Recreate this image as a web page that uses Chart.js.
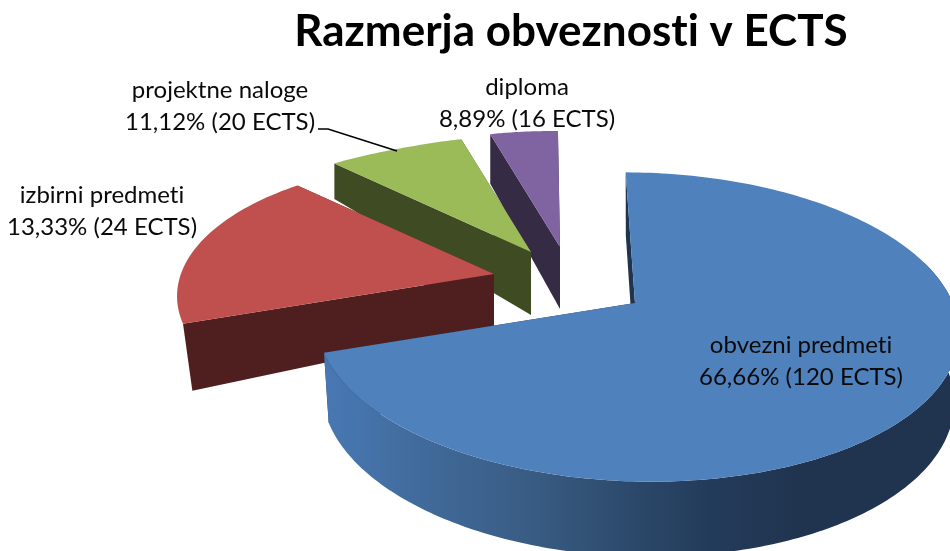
<!DOCTYPE html>
<html lang="en">
  <head>
    <meta charset="utf-8" />
    <title>Razmerja obveznosti v ECTS</title>
    <style>
      * {
        margin: 0;
        padding: 0;
      }
      body {
        background: white;
      }
      canvas {
        display: block;
      }
    </style>
  </head>
  <body>
    <canvas id="myChart" width="950" height="551"></canvas>
    <script src="https://cdn.jsdelivr.net/npm/chart.js/dist/chart.umd.min.js"></script>
    <script>
      // data
      const categories = ["obvezni predmeti", "izbirni predmeti", "projektne naloge", "diploma"];
      const ects = [120, 24, 20, 16];
      const percents = ["66,66", "13,33", "11,12", "8,89"];
      const titleText = "Razmerja obveznosti v ECTS";

      // styles, same order as the data
      const topColors = ["#4f81bd", "#c0504d", "#9bbb59", "#8064a2"];
      const wallColors = ["#20344f", "#4f1f1f", "#3f4b22", "#352b45"];
      const apexes = [[635, 303], [494, 274], [531, 252], [560, 247]];
      const depths = [68, 53, 63, 62];
      const depthGains = [0.04, 0.28, 0.31, 0.11];
      const wallInsets = [0.015, 0.03, 0, 0];
      const labelCenters = [[801, 345], [102, 195], [220, 90], [527, 87]];
      const lineHeight = 32;

      // pie angle (deg from top, clockwise) -> angle on the tilted ellipse
      const warpStops = [[0, -2.2], [240, 258], [288, 318.5], [328, 345.5], [360, 359]];
      const ellipseA = 321;
      const ellipseB = 154.5;

      function warp(a) {
        for (let i = 1; i < warpStops.length; i++) {
          const [a0, t0] = warpStops[i - 1];
          const [a1, t1] = warpStops[i];
          if (a <= a1) return t0 + ((a - a0) / (a1 - a0)) * (t1 - t0);
        }
        return warpStops[warpStops.length - 1][1];
      }

      // the smaller slices at the back are drawn a bit smaller
      function rimScale(a) {
        if (a <= 240) return 1;
        const s = Math.min(1, (a - 240) / 80);
        return 1 - 0.095 * s * s * (3 - 2 * s);
      }

      // point on the rim, relative to the slice apex
      function rimPoint(a) {
        const t = (warp(a) * Math.PI) / 180;
        const r = rimScale(a);
        const dx = r * ellipseA * Math.sin(t);
        return [3 + dx, 24 + 0.02 * dx - r * ellipseB * Math.cos(t)];
      }

      function fillPath(ctx, pts, ax, ay, color) {
        ctx.beginPath();
        pts.forEach((p, j) => {
          if (j === 0) ctx.moveTo(ax + p[0], ay + p[1]);
          else ctx.lineTo(ax + p[0], ay + p[1]);
        });
        ctx.closePath();
        ctx.fillStyle = color;
        ctx.fill();
      }

      const pie3d = {
        id: "pie3d",
        beforeDraw(chart) {
          // no "ti" ligatures, the reference has none
          chart.ctx.letterSpacing = "0.01px";
        },
        beforeDatasetDraw(chart, args) {
          const ctx = chart.ctx;
          const arcs = args.meta.data;
          const wallGradient = ctx.createLinearGradient(323, 0, 950, 0);
          wallGradient.addColorStop(0, "#4878b4");
          wallGradient.addColorStop(0.2, "#3f6795");
          wallGradient.addColorStop(0.36, "#37597f");
          wallGradient.addColorStop(0.5, "#2b4869");
          wallGradient.addColorStop(0.62, "#233b5a");
          wallGradient.addColorStop(0.76, "#20344f");
          wallGradient.addColorStop(1, "#20344f");

          // back slices first
          for (let i = arcs.length - 1; i >= 0; i--) {
            const start = (arcs[i].startAngle * 180) / Math.PI + 90;
            const end = (arcs[i].endAngle * 180) / Math.PI + 90;
            const [ax, ay] = apexes[i];
            const rim = [];
            for (let a = start; a < end; a += 1) rim.push(rimPoint(a));
            rim.push(rimPoint(end));

            const lower = (p) => [
              p[0] - p[0] * wallInsets[i],
              p[1] + depths[i] + depthGains[i] * p[1],
            ];

            // the two cut faces
            const apex = [0, 0];
            [rim[0], rim[rim.length - 1]].forEach((p) => {
              fillPath(ctx, [apex, p, lower(p), lower(apex)], ax, ay, wallColors[i]);
            });

            // outer wall, only the part facing the viewer (back of the pie stays hidden)
            if (end <= 240) {
              const front = rim.slice(60);
              const wall = front.concat(front.map(lower).reverse());
              fillPath(ctx, wall, ax, ay, wallGradient);
            }

            fillPath(ctx, [apex].concat(rim), ax, ay, topColors[i]);
          }
          return false;
        },
        afterDraw(chart) {
          const ctx = chart.ctx;
          // leader line of projektne naloge
          ctx.beginPath();
          ctx.moveTo(318, 129);
          ctx.lineTo(328, 129);
          ctx.lineTo(397, 151);
          ctx.strokeStyle = "#000";
          ctx.lineWidth = 1.5;
          ctx.stroke();

          ctx.fillStyle = "#0a0a0a";
          ctx.font = "24px Lato";
          ctx.textAlign = "center";
          ctx.textBaseline = "middle";
          categories.forEach((name, i) => {
            const [x, y] = labelCenters[i];
            ctx.fillText(name, x, y);
            ctx.fillText(percents[i] + "% (" + ects[i] + " ECTS)", x, y + lineHeight);
          });
        },
      };

      new Chart(document.getElementById("myChart"), {
        type: "pie",
        data: {
          labels: categories,
          datasets: [{ data: ects, backgroundColor: topColors, borderWidth: 0 }],
        },
        options: {
          responsive: false,
          animation: false,
          layout: { padding: { left: 192 } },
          plugins: {
            legend: { display: false },
            tooltip: { enabled: false },
            title: {
              display: true,
              text: titleText,
              color: "#000",
              font: { family: "Lato", size: 44, weight: "bold" },
              padding: { top: 5, bottom: 4 },
            },
          },
        },
        plugins: [pie3d],
      });
    </script>
  </body>
</html>
